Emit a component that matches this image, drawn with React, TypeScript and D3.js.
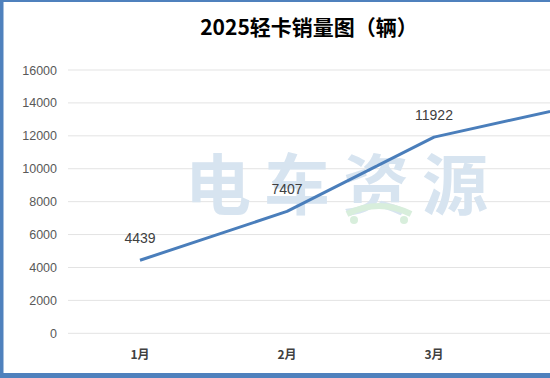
import React from "react";
import * as d3 from "d3";

const title = "2025轻卡销量图（辆）";
const months = ["1月", "2月", "3月", "4月"];
const sales = [4439, 7407, 11922, 13900];
const yTicks = [0, 2000, 4000, 6000, 8000, 10000, 12000, 14000, 16000];
const watermark = ["电", "车", "资", "源"];

const W = 550;
const H = 378;

export default function App() {
  const x = d3.scalePoint<string>().domain(months).range([66.5, 66.5 + 147 * 4]).padding(0.5);
  const y = d3.scaleLinear().domain([0, 16000]).range([333.3, 70]);
  const line = d3
    .line<number>()
    .x((_, i) => x(months[i]) as number)
    .y((d) => y(d));
  const labelFont = "'Liberation Sans', Arial, sans-serif";
  const cjk = "'Noto Sans CJK SC', 'Noto Sans', sans-serif";
  const visible = (m: string) => (x(m) as number) < W - 10;
  return (
    <svg
      width={W}
      height={H}
      style={{ position: "absolute", left: 0, top: 0, background: "#fff" }}
    >
      <defs>
        <clipPath id="clip">
          <rect x={4} y={2} width={W - 4} height={H - 7} />
        </clipPath>
      </defs>
      <rect x={0} y={0} width={W} height={H} fill="#fff" />
      {/* gridlines */}
      <g clipPath="url(#clip)">
        {yTicks.map((t) => (
          <line key={t} x1={68} x2={W} y1={y(t)} y2={y(t)} stroke="#e3e3e3" strokeWidth={1} />
        ))}
      </g>
      {/* watermark */}
      <g fontFamily={cjk} fontWeight={700} fontSize={66} fill="#d7e4f0">
        {watermark.map((c, i) => (
          <text key={c} x={218 + i * 79} y={209} textAnchor="middle">
            {c}
          </text>
        ))}
        <path d="M347 214 Q379 198 411 214" fill="none" stroke="#d8eedc" strokeWidth={6} />
        <circle cx={354} cy={220} r={4} fill="#d8eedc" />
        <circle cx={404} cy={220} r={4} fill="#d8eedc" />
      </g>
      {/* y tick labels */}
      <g fontFamily={labelFont} fontSize={12.5} fill="#595959" textAnchor="end">
        {yTicks.map((t) => (
          <text key={t} x={57} y={y(t) + 4.5}>
            {t}
          </text>
        ))}
      </g>
      {/* x labels */}
      <g fontFamily={cjk} fontSize={12} fontWeight={700} fill="#404040" textAnchor="middle">
        {months.filter(visible).map((m) => (
          <text key={m} x={x(m)} y={359}>
            {m}
          </text>
        ))}
      </g>
      {/* line */}
      <g clipPath="url(#clip)">
        <path d={line(sales) || ""} fill="none" stroke="#4a7ebb" strokeWidth={3} strokeLinejoin="round" />
        {sales.map((v, i) =>
          visible(months[i]) ? (
            <text
              key={i}
              x={x(months[i])}
              y={y(v) - 17}
              textAnchor="middle"
              fontFamily={labelFont}
              fontSize={14}
              fill="#404040"
            >
              {v}
            </text>
          ) : null
        )}
      </g>
      {/* title */}
      <text x={309} y={35} textAnchor="middle" fontFamily={cjk} fontWeight={700} fontSize={21} fill="#000">
        {title}
      </text>
      {/* border */}
      <rect x={0} y={0} width={W} height={2} fill="#4f81bd" />
      <rect x={0} y={0} width={3.5} height={H} fill="#4f81bd" />
      <rect x={0} y={373} width={W} height={5} fill="#4f81bd" />
    </svg>
  );
}
